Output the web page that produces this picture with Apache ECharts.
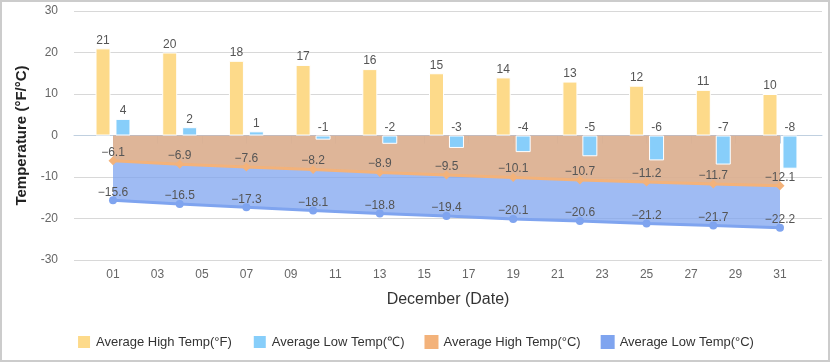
<!DOCTYPE html>
<html>
<head>
<meta charset="utf-8">
<script src="https://cdn.jsdelivr.net/npm/echarts@6/dist/echarts.min.js"></script>
<style>
html,body{margin:0;padding:0;background:#fff;}
#wrap{position:relative;width:830px;height:362px;}
#chart{position:absolute;left:0;top:0;width:830px;height:362px;}
#frame{position:absolute;left:0;top:0;width:830px;height:362px;box-sizing:border-box;border:2px solid #cccccc;pointer-events:none;}
</style>
</head>
<body>
<div id="wrap"><div id="chart"></div><div id="frame"></div></div>
<script>
// Data (December dates)
var days = [1, 4, 7, 10, 13, 16, 19, 22, 25, 28, 31];
var highF = [21, 20, 18, 17, 16, 15, 14, 13, 12, 11, 10];
var lowBar = [4, 2, 1, -1, -2, -3, -4, -5, -6, -7, -8];
var highC = [-6.1, -6.9, -7.6, -8.2, -8.9, -9.5, -10.1, -10.7, -11.2, -11.7, -12.1];
var lowC = [-15.6, -16.5, -17.3, -18.1, -18.8, -19.4, -20.1, -20.6, -21.2, -21.7, -22.2];
var tickDays = [1, 3, 5, 7, 9, 11, 13, 15, 17, 19, 21, 23, 25, 27, 29, 31];
var seriesNames = ['Average High Temp(°F)', 'Average Low Temp(℃)', 'Average High Temp(°C)', 'Average Low Temp(°C)'];

function pairs(vals) { return days.map(function (d, i) { return [d, vals[i]]; }); }
function pad(v) { return (v < 10 ? '0' : '') + v; }
function minusFmt(p) { var v = p.value[1]; return (v < 0 ? '\u2212' + (-v) : '' + v); }

var FONT = '"Liberation Sans", Arial, sans-serif';
var barLabel = { show: true, position: 'top', distance: 2, color: '#555', fontSize: 12, fontFamily: FONT };
var lineLabel = { show: true, position: 'top', distance: -2, color: '#555', fontSize: 12, fontFamily: FONT, formatter: minusFmt };

var chart = echarts.init(document.getElementById('chart'), null, { renderer: 'canvas' });
chart.setOption({
  animation: false,
  textStyle: { fontFamily: FONT },
  grid: { left: 74, right: 8, top: 11, bottom: 102, containLabel: false },
  legend: {
    data: seriesNames,
    left: 'center', top: 329,
    itemWidth: 14, itemHeight: 14, itemGap: 20, icon: 'rect',
    textStyle: { color: '#333', fontSize: 13, fontFamily: FONT }
  },
  xAxis: {
    type: 'value', min: -0.754, max: 32.89,
    name: 'December (Date)', nameLocation: 'middle', nameGap: 32,
    nameTextStyle: { color: '#333', fontSize: 16, fontFamily: FONT },
    axisLine: { show: true, lineStyle: { color: '#C0D0E0', width: 1 } },
    axisTick: { show: true, length: 8, customValues: tickDays, lineStyle: { color: '#C0D0E0' } },
    axisLabel: { customValues: tickDays, formatter: function (v) { return pad(v); }, color: '#666', fontSize: 12, margin: 9 },
    splitLine: { show: false }
  },
  yAxis: {
    type: 'value', min: -30, max: 30, interval: 10,
    name: 'Temperature (°F/°C)', nameLocation: 'middle', nameGap: 45,
    nameTextStyle: { color: '#222', fontSize: 15, fontWeight: 'bold', fontFamily: FONT },
    axisLine: { show: false }, axisTick: { show: false },
    axisLabel: { color: '#666', fontSize: 12, margin: 16 },
    splitLine: { lineStyle: { color: '#D8D8D8', width: 1 } }
  },
  series: [
    {
      name: seriesNames[0], type: 'bar', data: pairs(highF), barWidth: 15, barGap: '33%', z: 5,
      itemStyle: { color: '#FDDA8A', borderColor: '#fff', borderWidth: 1 },
      label: barLabel
    },
    {
      name: seriesNames[1], type: 'bar', data: pairs(lowBar), barWidth: 15, barGap: '33%', z: 5,
      itemStyle: { color: '#87CEFA', borderColor: '#fff', borderWidth: 1 },
      label: barLabel
    },
    {
      name: seriesNames[2], type: 'line', data: pairs(highC), z: 3,
      symbol: 'diamond', symbolSize: 9, showAllSymbol: true,
      itemStyle: { color: '#F3B27A' },
      lineStyle: { color: '#F3B27A', width: 3 },
      areaStyle: { color: '#F3B37A', opacity: 0.75 },
      label: lineLabel
    },
    {
      name: seriesNames[3], type: 'line', data: pairs(lowC), z: 2,
      symbol: 'circle', symbolSize: 8, showAllSymbol: true,
      itemStyle: { color: '#7FA4EF' },
      lineStyle: { color: '#7FA4EF', width: 3 },
      areaStyle: { color: '#7FA4EF', opacity: 0.75 },
      label: lineLabel
    }
  ]
});
</script>
</body>
</html>
